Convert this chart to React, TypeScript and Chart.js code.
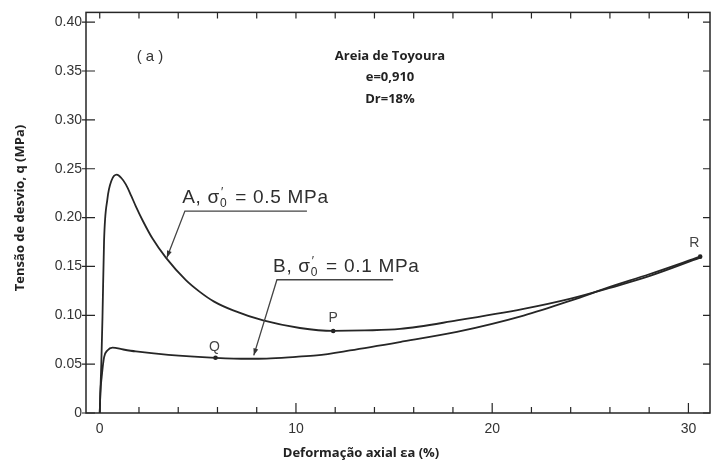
import { useEffect, useRef } from 'react';
import { Chart, registerables } from 'chart.js';

Chart.register(...registerables);

// Test A: confining pressure 0.5 MPa (axial strain %, deviator stress MPa)
const strainA = [0, 0.03, 0.08, 0.14, 0.22, 0.39, 0.6, 0.87, 1.1, 1.33, 1.6, 1.84, 2.2, 2.69, 3.37, 4.39, 5.1, 5.83, 6.8, 8.33, 10.2, 11.9, 13.5, 15.3, 18.2, 21.6, 24, 26, 28, 30.6];
const stressA = [0, 0.02, 0.05, 0.098, 0.176, 0.219, 0.238, 0.244, 0.2405, 0.234, 0.2225, 0.2115, 0.1965, 0.1785, 0.159, 0.136, 0.124, 0.114, 0.105, 0.0947, 0.087, 0.084, 0.0845, 0.086, 0.0947, 0.1065, 0.117, 0.128, 0.14, 0.159];

// Test B: confining pressure 0.1 MPa
const strainB = [0, 0.03, 0.1, 0.22, 0.39, 0.65, 1.2, 1.84, 3.5, 5.9, 7.5, 8.5, 10, 11.05, 12.75, 15.3, 18.2, 21.6, 24, 26, 28, 30.6];
const stressB = [0, 0.02, 0.037, 0.057, 0.064, 0.067, 0.065, 0.063, 0.0595, 0.0565, 0.0555, 0.0557, 0.0575, 0.059, 0.064, 0.0726, 0.083, 0.0997, 0.115, 0.129, 0.142, 0.16];

// Marked states on the curves
const markedStrain = [11.9, 5.9, 30.6];
const markedStress = [0.084, 0.0565, 0.16];
const markedLabels = ['P', 'Q', 'R'];

const curveNames = ['A', 'B'];
const confiningPressure = [0.5, 0.1];

const xTickValues = [0, 10, 20, 30];
const xTickLabels = ['0', '10', '20', '30'];
const yTickValues = [0, 0.05, 0.1, 0.15, 0.2, 0.25, 0.3, 0.35, 0.4];
const yTickLabels = ['0', '0.05', '0.10', '0.15', '0.20', '0.25', '0.30', '0.35', '0.40'];

const panelLabel = '( a )';
const sampleInfo = ['Areia de Toyoura', 'e=0,910', 'Dr=18%'];
const xTitle = 'Deformação axial εa (%)';
const yTitle = 'Tensão de desvio, q (MPa)';

// Layout of the callouts (data coordinates)
const callouts = [
  { textX: 4.2, textY: 0.2145, lineFrom: 4.34, lineTo: 10.56, lineY: 0.2066, tipX: 3.42, tipY: 0.159 },
  { textX: 8.83, textY: 0.1445, lineFrom: 9.03, lineTo: 14.95, lineY: 0.1364, tipX: 7.85, tipY: 0.059 },
];
const markLabelOffsets = [
  [0, -13],
  [-1, -11],
  [-6, -14],
];

const INK = '#262626';
const TEXT = '#333333';
const SANS = '"Liberation Sans", Arial, sans-serif';
const BOLD = '"Open Sans", sans-serif';

const pairs = (xs: number[], ys: number[]) => xs.map((x, i) => ({ x, y: ys[i] }));

const idx = (arr: number[], v: number) => arr.findIndex((a) => Math.abs(a - v) < 1e-9);

const decorations = {
  id: 'decorations',
  afterDraw(chart: any) {
    const { ctx, chartArea: a, scales } = chart;
    const xs = scales.x;
    const ys = scales.y;
    ctx.save();

    // frame
    ctx.strokeStyle = INK;
    ctx.lineWidth = 1.5;
    ctx.strokeRect(a.left, a.top, a.right - a.left, a.bottom - a.top);

    // inward tick marks
    ctx.lineWidth = 1.2;
    ctx.beginPath();
    for (let v = 0; v <= 30; v += 2) {
      const px = xs.getPixelForValue(v);
      const major = v % 10 === 0;
      ctx.moveTo(px, a.bottom);
      ctx.lineTo(px, a.bottom - (major ? 10 : 6));
      ctx.moveTo(px, a.top);
      ctx.lineTo(px, a.top + 6);
    }
    yTickValues.forEach((v) => {
      const py = ys.getPixelForValue(v);
      ctx.moveTo(a.left - 4, py);
      ctx.lineTo(a.left + 9, py);
      ctx.moveTo(a.right, py);
      ctx.lineTo(a.right - 7, py);
    });
    ctx.stroke();

    // axis titles
    ctx.fillStyle = '#222';
    ctx.font = `bold 13px ${BOLD}`;
    ctx.textAlign = 'center';
    ctx.textBaseline = 'middle';
    ctx.fillText(xTitle, 361, 453);
    ctx.save();
    ctx.translate(20, 208);
    ctx.rotate(-Math.PI / 2);
    ctx.fillText(yTitle, 0, 0);
    ctx.restore();

    // sample description
    sampleInfo.forEach((t, i) => ctx.fillText(t, 390, 56 + i * 21.5));

    // panel label
    ctx.fillStyle = TEXT;
    ctx.font = `15px ${SANS}`;
    ctx.fillText(panelLabel, 150, 57);

    // marked points
    ctx.font = `14px ${SANS}`;
    ctx.fillStyle = '#444';
    markedLabels.forEach((t, i) => {
      const px = xs.getPixelForValue(markedStrain[i]);
      const py = ys.getPixelForValue(markedStress[i]);
      ctx.fillText(t, px + markLabelOffsets[i][0], py + markLabelOffsets[i][1]);
    });

    // callouts
    callouts.forEach((c, i) => {
      ctx.fillStyle = '#2e2e2e';
      ctx.textAlign = 'left';
      ctx.textBaseline = 'alphabetic';
      const tx = xs.getPixelForValue(c.textX);
      const ty = ys.getPixelForValue(c.textY);
      let x = tx;
      ctx.font = `19px ${SANS}`;
      (ctx as any).letterSpacing = '0.7px';
      const head = `${curveNames[i]}, σ`;
      ctx.fillText(head, x, ty);
      x += ctx.measureText(head).width;
      ctx.font = `12px ${SANS}`;
      ctx.fillText('′', x + 1, ty - 7);
      ctx.fillText('0', x, ty + 4);
      x += ctx.measureText('0').width + 2;
      ctx.font = `19px ${SANS}`;
      ctx.fillText(` = ${confiningPressure[i]} MPa`, x, ty);
      (ctx as any).letterSpacing = '0px';

      const u0 = xs.getPixelForValue(c.lineFrom);
      const u1 = xs.getPixelForValue(c.lineTo);
      const uy = ys.getPixelForValue(c.lineY);
      const tipX = xs.getPixelForValue(c.tipX);
      const tipY = ys.getPixelForValue(c.tipY);
      ctx.strokeStyle = '#444';
      ctx.lineWidth = 1.3;
      ctx.beginPath();
      ctx.moveTo(u1, uy);
      ctx.lineTo(u0, uy);
      ctx.lineTo(tipX, tipY);
      ctx.stroke();
      const ang = Math.atan2(tipY - uy, tipX - u0);
      const len = 7;
      const half = 2.5;
      ctx.fillStyle = '#333';
      ctx.beginPath();
      ctx.moveTo(tipX, tipY);
      ctx.lineTo(
        tipX - len * Math.cos(ang) + half * Math.sin(ang),
        tipY - len * Math.sin(ang) - half * Math.cos(ang)
      );
      ctx.lineTo(
        tipX - len * Math.cos(ang) - half * Math.sin(ang),
        tipY - len * Math.sin(ang) + half * Math.cos(ang)
      );
      ctx.closePath();
      ctx.fill();
    });

    ctx.restore();
  },
};

export default function App() {
  const canvasRef = useRef<HTMLCanvasElement | null>(null);

  useEffect(() => {
    if (!canvasRef.current) return;
    const curveStyle = {
      showLine: true,
      pointRadius: 0,
      borderColor: INK,
      borderWidth: 1.8,
      cubicInterpolationMode: 'monotone' as const,
      fill: false,
    };
    const chart = new Chart(canvasRef.current, {
      type: 'scatter',
      data: {
        datasets: [
          { ...curveStyle, label: 'A', data: pairs(strainA, stressA) },
          { ...curveStyle, label: 'B', data: pairs(strainB, stressB) },
          {
            label: 'marks',
            data: pairs(markedStrain, markedStress),
            showLine: false,
            pointRadius: 2.3,
            pointBackgroundColor: '#222',
            pointBorderWidth: 0,
          },
        ],
      },
      options: {
        animation: false,
        responsive: false,
        events: [],
        layout: { padding: { top: 10, right: 5, left: 0, bottom: 0 } },
        plugins: { legend: { display: false }, tooltip: { enabled: false } },
        scales: {
          x: {
            type: 'linear',
            min: -0.7,
            max: 31.1,
            grid: { display: false, drawTicks: false },
            border: { display: false },
            afterFit: (s: any) => {
              s.height = 51;
            },
            afterBuildTicks: (s: any) => {
              s.ticks = xTickValues.map((value) => ({ value }));
            },
            ticks: {
              autoSkip: false,
              maxRotation: 0,
              padding: 8,
              color: TEXT,
              font: { family: SANS, size: 14 },
              callback: (v: any) => xTickLabels[idx(xTickValues, Number(v))] ?? '',
            },
          },
          y: {
            type: 'linear',
            min: 0,
            max: 0.41,
            grid: { display: false, drawTicks: false },
            border: { display: false },
            afterFit: (s: any) => {
              s.width = 86;
            },
            afterBuildTicks: (s: any) => {
              s.ticks = yTickValues.map((value) => ({ value }));
            },
            ticks: {
              autoSkip: false,
              padding: 4,
              color: TEXT,
              font: { family: SANS, size: 14 },
              callback: (v: any) => yTickLabels[idx(yTickValues, Number(v))] ?? '',
            },
          },
        },
      },
      plugins: [decorations],
    });
    return () => chart.destroy();
  }, []);

  return (
    <div style={{ position: 'absolute', left: 0, top: 0, width: 715, height: 464, background: '#fff' }}>
      <canvas ref={canvasRef} width={715} height={464} style={{ display: 'block' }} />
    </div>
  );
}
